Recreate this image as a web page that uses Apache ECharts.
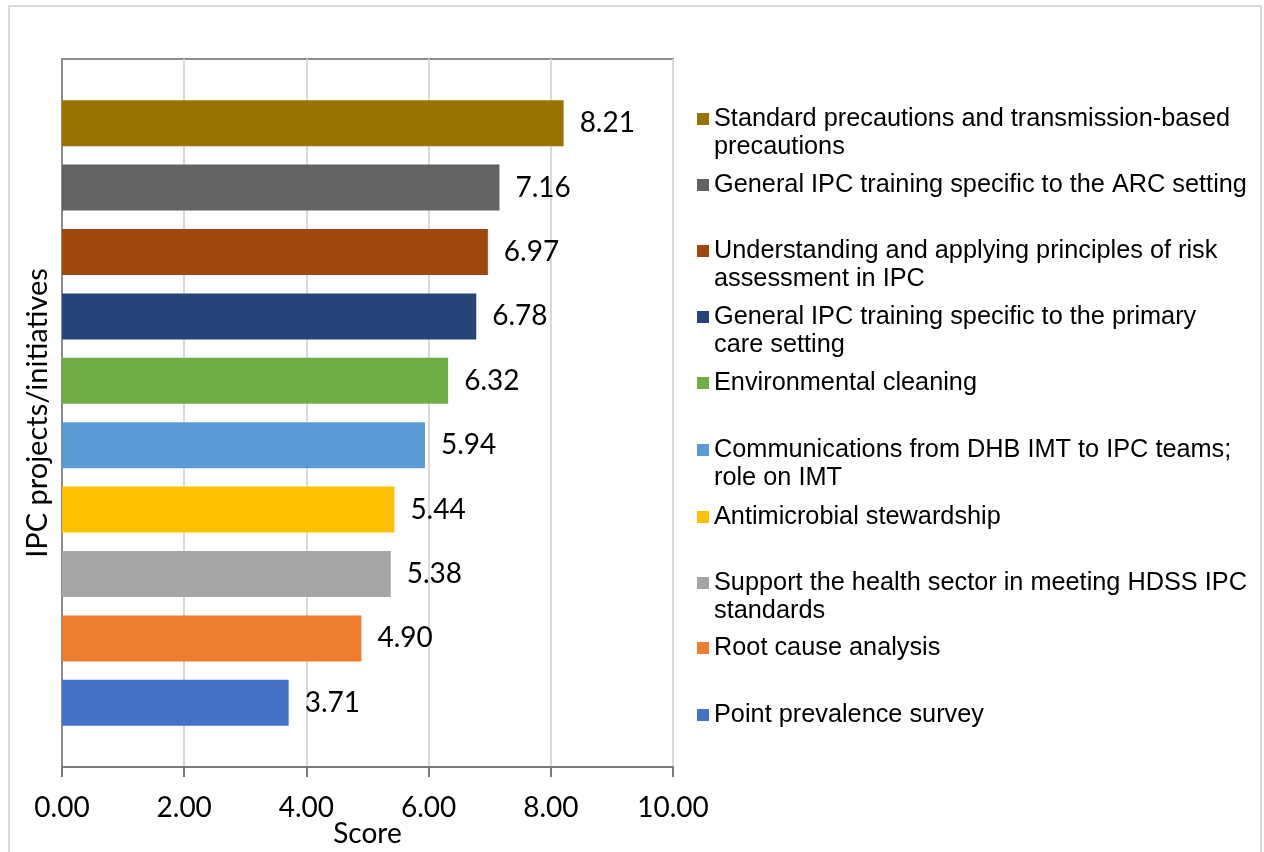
<!DOCTYPE html>
<html>
<head>
<meta charset="utf-8">
<script src="https://cdn.jsdelivr.net/npm/echarts@6/dist/echarts.min.js"></script>
<style>
  html, body { margin: 0; padding: 0; background: #ffffff; }
  #chart { width: 1264px; height: 852px; }
</style>
</head>
<body>
<div id="chart"></div>
<script>
// IPC projects/initiatives, top to bottom, with their mean scores
const itemNames = [
  'Standard precautions and transmission-based\nprecautions',
  'General IPC training specific to the ARC setting',
  'Understanding and applying principles of risk\nassessment in IPC',
  'General IPC training specific to the primary\ncare setting',
  'Environmental cleaning',
  'Communications from DHB IMT to IPC teams;\nrole on IMT',
  'Antimicrobial stewardship',
  'Support the health sector in meeting HDSS IPC\nstandards',
  'Root cause analysis',
  'Point prevalence survey'
];
const scores = [8.21, 7.16, 6.97, 6.78, 6.32, 5.94, 5.44, 5.38, 4.90, 3.71];
const barColors = ['#997300', '#636363', '#9E480E', '#264478', '#70AD47',
                   '#5B9BD5', '#FFC000', '#A5A5A5', '#ED7D31', '#4472C4'];
const xTicks = [0, 2, 4, 6, 8, 10];

const labelFont = 'Lato, "Open Sans", sans-serif';
const legendFont = '"Liberation Sans", Arial, sans-serif';

const chart = echarts.init(document.getElementById('chart'), null, { renderer: 'canvas' });

// vertical centre of each legend marker, one entry per item
const legendCentres = [119, 185, 251, 317, 383, 450, 517, 583, 648, 715];
const lineH = 28.5;

// Wrapped entries get a blank first line so the marker sits beside
// the first line of text rather than between the two lines.
const legends = itemNames.map((name, i) => {
  const twoLines = name.indexOf('\n') >= 0;
  return {
    data: [name],
    orient: 'vertical',
    left: 697,
    top: twoLines ? legendCentres[i] - lineH * 1.5 : legendCentres[i] - lineH / 2,
    padding: 0,
    itemWidth: 12,
    itemHeight: 12,
    itemGap: 0,
    icon: 'rect',
    selectedMode: false,
    formatter: n => (n.indexOf('\n') >= 0 ? ' \n' + n : n),
    textStyle: {
      fontFamily: legendFont,
      fontSize: 25.3,
      lineHeight: lineH,
      color: '#000000'
    }
  };
});

const series = itemNames.map((name, i) => ({
  name: name,
  type: 'bar',
  data: [scores[i]],
  barWidth: 46,
  barGap: '40%',
  itemStyle: { color: barColors[i] },
  label: {
    show: true,
    position: 'right',
    distance: 16,
    fontFamily: labelFont,
    fontSize: 28,
    color: '#000000',
    formatter: p => p.value.toFixed(2)
  }
}));

chart.setOption({
  backgroundColor: '#ffffff',
  animation: false,
  graphic: [{
    type: 'rect',
    shape: { x: 9, y: 6, width: 1252, height: 880 },
    style: { fill: 'none', stroke: '#d9d9d9', lineWidth: 2 },
    silent: true,
    z: -10
  }],
  legend: legends,
  grid: {
    left: 62, top: 59, width: 611, height: 708,
    show: true,
    borderColor: '#8c8c8c',
    borderWidth: 2,
    containLabel: false,
    outerBoundsMode: 'none'
  },
  xAxis: {
    type: 'value',
    min: xTicks[0],
    max: xTicks[xTicks.length - 1],
    interval: xTicks[1] - xTicks[0],
    name: 'Score',
    nameLocation: 'middle',
    nameGap: 53,
    nameMoveOverlap: false,
    nameTextStyle: { fontFamily: labelFont, fontSize: 28, color: '#000000' },
    axisLine: { show: true, lineStyle: { color: '#7a7a7a', width: 2 } },
    axisTick: { show: true, length: 10, lineStyle: { color: '#7a7a7a', width: 2 } },
    axisLabel: {
      margin: 27,
      fontFamily: labelFont,
      fontSize: 28,
      color: '#000000',
      formatter: v => v.toFixed(2)
    },
    splitLine: { show: true, lineStyle: { color: '#d9d9d9', width: 2 } }
  },
  yAxis: {
    type: 'category',
    data: [''],
    name: 'IPC projects/initiatives',
    nameLocation: 'middle',
    nameRotate: 90,
    nameGap: 10,
    nameMoveOverlap: false,
    nameTextStyle: { fontFamily: labelFont, fontSize: 29, color: '#000000' },
    axisLine: { show: true, lineStyle: { color: '#8c8c8c', width: 2 } },
    axisTick: { show: false },
    axisLabel: { show: false },
    splitLine: { show: false }
  },
  series: series
});
</script>
</body>
</html>
